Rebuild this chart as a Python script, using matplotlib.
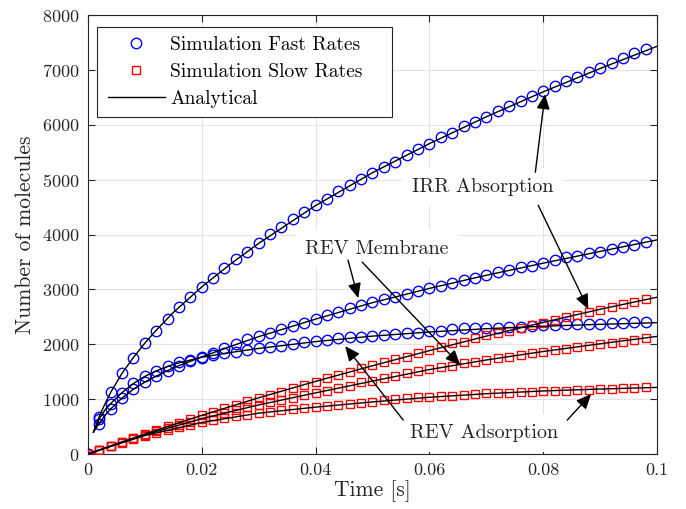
import numpy as np
import matplotlib
matplotlib.use('Agg')
import matplotlib.pyplot as plt
from matplotlib.lines import Line2D
from matplotlib.patches import Rectangle

plt.rcParams['font.family'] = 'serif'
plt.rcParams['font.serif'] = ['cmr10']
plt.rcParams['mathtext.fontset'] = 'cm'
plt.rcParams['axes.formatter.use_mathtext'] = True

# simulation sample times (every 2 ms)
t_sim = np.round(np.arange(50) * 0.002, 3)

irr_fast = [0, 680, 1130, 1476, 1750, 2022, 2250, 2460, 2678, 2860,
            3043, 3207, 3389, 3553, 3680, 3844, 4008, 4136, 4282, 4409,
            4537, 4646, 4792, 4901, 5020, 5120, 5229, 5320, 5448, 5557,
            5648, 5776, 5849, 5976, 6049, 6140, 6249, 6341, 6432, 6523,
            6614, 6705, 6796, 6869, 6960, 7033, 7124, 7215, 7306, 7379]
mem_fast = [0, 550, 820, 1020, 1180, 1310, 1420, 1520, 1610, 1690,
            1767, 1840, 1931, 2010, 2090, 2150, 2210, 2277, 2332, 2395,
            2470, 2533, 2587, 2660, 2715, 2769, 2824, 2860, 2915, 2970,
            3024, 3061, 3115, 3170, 3207, 3261, 3316, 3352, 3407, 3425,
            3480, 3535, 3589, 3607, 3662, 3680, 3735, 3771, 3808, 3862]
ads_fast = [0, 640, 920, 1120, 1290, 1420, 1520, 1600, 1670, 1720,
            1760, 1800, 1835, 1860, 1895, 1925, 1950, 1975, 2010, 2035,
            2060, 2080, 2120, 2132, 2132, 2150, 2168, 2186, 2205, 2205,
            2241, 2241, 2277, 2296, 2296, 2296, 2296, 2314, 2314, 2332,
            2350, 2350, 2369, 2369, 2369, 2369, 2387, 2387, 2405, 2405]

irr_slow = [0, 75, 150, 225, 295, 365, 435, 505, 570, 640,
            705, 770, 835, 895, 960, 1020, 1080, 1140, 1200, 1260,
            1320, 1385, 1440, 1494, 1567, 1622, 1676, 1731, 1767, 1840,
            1895, 1950, 2022, 2040, 2113, 2168, 2205, 2241, 2296, 2350,
            2387, 2441, 2496, 2533, 2587, 2624, 2678, 2733, 2769, 2824]
mem_slow = [0, 75, 145, 215, 285, 350, 415, 475, 535, 590,
            645, 700, 750, 800, 850, 895, 940, 985, 1030, 1070,
            1110, 1150, 1203, 1239, 1312, 1330, 1385, 1421, 1476, 1512,
            1549, 1585, 1603, 1658, 1676, 1713, 1749, 1767, 1804, 1840,
            1858, 1895, 1913, 1950, 1968, 2004, 2022, 2040, 2077, 2113]
ads_slow = [0, 75, 145, 210, 275, 335, 390, 440, 490, 535,
            575, 615, 650, 685, 715, 750, 775, 800, 820, 840,
            858, 870, 893, 911, 929, 947, 984, 1002, 1020, 1038,
            1038, 1057, 1057, 1075, 1093, 1111, 1111, 1111, 1130, 1130,
            1148, 1148, 1148, 1166, 1166, 1184, 1184, 1203, 1203, 1221]

# analytical curves
t_an_fast = [0.001, 0.002, 0.003, 0.004, 0.006, 0.008, 0.010, 0.012, 0.015,
             0.020, 0.025, 0.030, 0.040, 0.050, 0.060, 0.070, 0.080, 0.090, 0.100]
irr_fast_an = [400, 680, 910, 1120, 1470, 1760, 2020, 2255, 2580,
               3045, 3460, 3840, 4530, 5130, 5660, 6150, 6605, 7030, 7435]
mem_fast_an = [400, 560, 700, 820, 1020, 1180, 1310, 1420, 1570,
               1770, 1960, 2140, 2460, 2760, 3020, 3260, 3480, 3695, 3905]
ads_fast_an = [400, 640, 800, 920, 1120, 1285, 1415, 1515, 1635,
               1765, 1850, 1925, 2050, 2150, 2225, 2285, 2330, 2365, 2395]

t_an_slow = [0, 0.005, 0.01, 0.02, 0.03, 0.04, 0.05, 0.06, 0.07, 0.08, 0.09, 0.1]
irr_slow_an = [0, 185, 365, 705, 1025, 1325, 1610, 1885, 2150, 2400, 2640, 2860]
mem_slow_an = [0, 180, 350, 645, 895, 1115, 1330, 1540, 1715, 1870, 2010, 2145]
ads_slow_an = [0, 170, 335, 575, 745, 855, 950, 1035, 1100, 1150, 1185, 1215]

xticks = [0, 0.02, 0.04, 0.06, 0.08, 0.1]
xtick_labels = ['0', '0.02', '0.04', '0.06', '0.08', '0.1']
yticks = [0, 1000, 2000, 3000, 4000, 5000, 6000, 7000, 8000]

fig = plt.figure(figsize=(6.86, 5.09), dpi=100)
ax = fig.add_axes([0.128, 0.108, 0.830, 0.862])

for ys in (irr_fast, mem_fast, ads_fast):
    ax.plot(t_sim, ys, 'o', mfc='none', mec='#0000ff', ms=7.5, mew=1.0, zorder=3)
for ys in (irr_slow, mem_slow, ads_slow):
    ax.plot(t_sim, ys, 's', mfc='none', mec='#ff0000', ms=6, mew=1.0, zorder=3)
for ys in (irr_fast_an, mem_fast_an, ads_fast_an):
    ax.plot(t_an_fast, ys, '-', color='k', lw=1.0, zorder=4)
for ys in (irr_slow_an, mem_slow_an, ads_slow_an):
    ax.plot(t_an_slow, ys, '-', color='k', lw=1.0, zorder=4)

ax.set_xlim(0, 0.1)
ax.set_ylim(0, 8000)
ax.set_xticks(xticks)
ax.set_xticklabels(xtick_labels)
ax.set_yticks(yticks)
ax.tick_params(direction='in', top=True, right=True, length=5, width=0.8,
               labelsize=13, colors='#262626', pad=6)
ax.grid(True, color='#e3e3e3', lw=0.8)
ax.set_axisbelow(True)
for sp in ax.spines.values():
    sp.set_color('#262626')
    sp.set_linewidth(0.8)
ax.set_xlabel('Time [s]', fontsize=15.5, color='#262626', labelpad=2)
ax.set_ylabel('Number of molecules', fontsize=15.5, color='#262626', labelpad=5)

# legend frame drawn separately so it can be wider than the text
ax.add_patch(Rectangle((0.0158, 0.7683), 0.5185, 0.205, transform=ax.transAxes,
                       fc='white', ec='#262626', lw=0.8, zorder=5.5))
handles = [Line2D([], [], ls='none', marker='o', mfc='none', mec='#0000ff', ms=7.5),
           Line2D([], [], ls='none', marker='s', mfc='none', mec='#ff0000', ms=6),
           Line2D([], [], color='k', lw=1.0)]
leg = ax.legend(handles, ['Simulation Fast Rates', 'Simulation Slow Rates', 'Analytical'],
                loc='upper left', fontsize=14, frameon=False,
                borderaxespad=0.6, handlelength=2.9,
                borderpad=0.45, labelspacing=0.48, handletextpad=0.3)
leg.set_zorder(6)

box = dict(boxstyle='square,pad=0.5', fc='white', ec='none')
arrow = dict(arrowstyle='-|>,head_length=0.9,head_width=0.4', color='k',
             lw=1.0, mutation_scale=10, shrinkA=0, shrinkB=0)

ax.text(0.0694, 4865, 'IRR Absorption', fontsize=14.5, ha='center', va='center',
        color='#262626', bbox=box, zorder=5)
ax.annotate('', xy=(0.0803, 6560), xytext=(0.0786, 5138), arrowprops=arrow, zorder=5)
ax.annotate('', xy=(0.0879, 2642), xytext=(0.0791, 4537), arrowprops=arrow, zorder=5)

ax.text(0.0508, 3735, 'REV Membrane', fontsize=14.5, ha='center', va='center',
        color='#262626', bbox=box, zorder=5)
ax.annotate('', xy=(0.0475, 2842), xytext=(0.0457, 3535), arrowprops=arrow, zorder=5)
ax.annotate('', xy=(0.0654, 1622), xytext=(0.0482, 3498), arrowprops=arrow, zorder=5)

ax.text(0.0696, 383, 'REV Adsorption', fontsize=14.5, ha='center', va='center',
        color='#262626', bbox=box, zorder=5)
ax.annotate('', xy=(0.0452, 1968), xytext=(0.0554, 619), arrowprops=arrow, zorder=5)
ax.annotate('', xy=(0.0884, 1093), xytext=(0.0842, 619), arrowprops=arrow, zorder=5)

fig.savefig('out.png', dpi=100)
